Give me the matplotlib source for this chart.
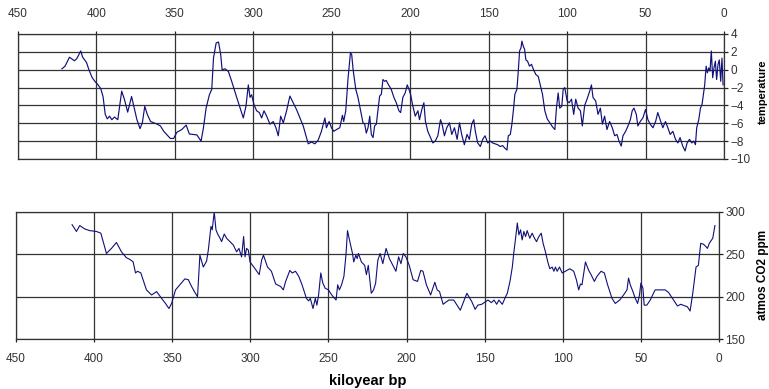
import matplotlib
matplotlib.use("Agg")
import matplotlib.pyplot as plt

plt.rcParams['font.family'] = ['Liberation Sans', 'DejaVu Sans']
plt.rcParams['font.size'] = 8.5

# Vostok ice core, temperature anomaly (deg C) vs age (kyr bp)
temp_age = [422, 420, 417.2, 414, 412.5, 410, 408.8, 406.3, 404.8, 402.7, 401, 399, 397.3, 395.8,
            394.4, 393.1, 391.6, 390.2, 388.5, 386.4, 383.9, 382.2, 380.1, 377.6, 375.9, 374.2,
            372.2, 370.7, 369.2, 367.6, 365.5, 363.4, 361.3, 359.2, 357.1, 355, 352.9, 350.8,
            348.7, 345.6, 342.8, 340.8, 338.1, 336, 333.3, 331.8, 330.1, 328, 326.5, 325.4,
            323.7, 322.2, 320.8, 319.9, 318, 315.9, 313.8, 310.6, 308.1, 306.4, 304.7, 303.2,
            302.1, 301.1, 299.6, 297.9, 296.2, 294.7, 293.2, 291.5, 289.4, 287.3, 285.6, 284.1,
            282.6, 280.9, 278.8, 276.7, 274.6, 272.5, 270.3, 268.2, 266.1, 265, 262.9, 260.8,
            258.7, 256.6, 254.4, 253.4, 251.7, 250.2, 248.7, 247, 244.9, 243.2, 242.4, 241.1,
            239.6, 238.1, 237.3, 236.4, 234.7, 233.3, 231.8, 230.1, 229, 228, 226.9, 225.8,
            224.8, 223.7, 222.7, 221.6, 220.6, 219.5, 218.4, 217.4, 216.3, 215.3, 213.8, 212.1,
            210.4, 208.9, 207.2, 206.1, 204.7, 203.2, 201.9, 200.8, 199.8, 198.3, 196.8, 195.1,
            194.1, 192.6, 191.3, 190.3, 188.8, 187.1, 185.6, 184.1, 182.4, 180.7, 179.7, 178.2,
            176.7, 175, 173.5, 171.8, 170.1, 168.6, 167.2, 165.5, 163.8, 162.3, 160.8, 159.5,
            158.5, 157, 155.3, 153.8, 152.3, 150.6, 148.9, 147.5, 145.8, 144.3, 142.6, 141.1,
            139.6, 138.3, 137.5, 136.2, 135.2, 134.1, 133.3, 132, 131.1, 130.3, 129.4, 128.8,
            127.9, 127.1, 126.3, 125.2, 124, 122.7, 121.4, 119.9, 118.4, 117.4, 115.7, 114.2,
            112.7, 111, 109.3, 107.8, 106.8, 105.7, 104.7, 103.4, 102.5, 101.5, 100, 98.7,
            97.2, 95.8, 94.5, 93, 91.5, 90.3, 88.8, 87.3, 85.6, 84.5, 83.5, 81.8, 80.3, 78.8,
            77.5, 76.1, 74.6, 72.9, 71.2, 69.7, 68.2, 66.9, 65.5, 64.4, 62.7, 61.2, 59.7, 58.5,
            57.4, 55.9, 54.9, 53.4, 51.7, 50, 48.5, 47, 45.3, 43.6, 42.2, 40.7, 39, 37.3, 35.8,
            34.3, 32.6, 30.9, 29.4, 28, 26.3, 24.8, 23.5, 22, 20.5, 19.3, 18.2, 17.4, 16.1, 15,
            14, 13.1, 12.3, 11.4, 10.6, 9.7, 8.9, 8.1, 7.2, 6.4, 5.5, 4.7, 3.8, 3.0, 2.1, 1.3, 0.6]
temp_val = [0.1, 0.4, 1.4, 1.0, 1.25, 2.1, 1.4, 0.8, 0.0, -0.9, -1.3, -1.7, -2.1, -3.0,
            -5.0, -5.5, -5.2, -5.6, -5.3, -5.6, -2.4, -3.3, -4.75, -3.0, -4.3, -5.6,
            -6.6, -5.9, -4.1, -5.0, -5.8, -5.95, -6.1, -6.3, -6.9, -7.3, -7.7, -7.7,
            -7.0, -6.7, -6.2, -7.2, -7.25, -7.3, -8.0, -6.5, -4.3, -2.8, -2.2, 1.3,
            3.0, 3.1, 1.7, 0.0, 0.1, -0.2, -1.3, -3.1, -4.45, -5.4, -4.1, -1.7,
            -3.1, -2.8, -3.9, -4.6, -4.8, -5.4, -4.6, -5.2, -6.1, -5.8, -6.5, -7.4,
            -5.2, -5.95, -4.6, -2.95, -3.7, -4.45, -5.4, -6.3, -7.6, -8.3, -8.1, -8.3,
            -7.9, -6.9, -5.4, -6.5, -5.8, -6.5, -6.9, -6.7, -6.5, -5.1, -5.8, -4.6,
            -0.9, 1.9, 1.7, 0.0, -2.2, -3.1, -4.45, -5.95, -6.1, -7.1, -6.5, -5.2,
            -7.25, -7.6, -6.3, -6.1, -4.6, -2.95, -2.75, -1.1, -1.3, -1.2, -1.7, -2.2,
            -3.1, -3.7, -4.6, -4.8, -3.1, -2.6, -1.7, -2.2, -2.75, -4.1, -5.2, -4.6,
            -5.6, -4.45, -3.7, -5.8, -6.9, -7.6, -8.2, -8.0, -7.4, -5.6, -6.1, -7.4,
            -6.5, -5.95, -7.25, -6.5, -7.8, -5.95, -7.25, -8.4, -7.25, -7.8, -6.1, -5.6,
            -6.9, -8.2, -8.6, -7.8, -7.4, -8.2, -8.0, -8.2, -8.3, -8.4, -8.6, -8.5,
            -8.8, -9.0, -7.4, -7.25, -6.1, -4.3, -2.75, -2.2, -0.1, 2.1, 2.45, 3.2,
            2.6, 2.3, 1.1, 0.95, 0.4, 0.6, 0.0, -0.55, -0.75, -1.5, -2.75, -4.6,
            -5.5, -5.95, -6.4, -6.7, -4.3, -2.6, -4.3, -4.1, -2.2, -2.0, -3.5, -3.7,
            -3.3, -5.0, -3.3, -4.3, -4.6, -6.3, -4.0, -3.3, -2.4, -1.7, -3.1, -3.5, -5.0, -4.3,
            -6.1, -5.2, -6.7, -5.8, -6.5, -7.4, -7.25, -8.0, -8.55, -7.4, -6.9, -6.3, -5.6, -4.6,
            -4.3, -5.0, -6.3, -5.8, -5.4, -4.45, -5.6, -6.1, -6.5, -5.8, -4.8, -5.6, -6.5, -5.8, -6.5,
            -7.25, -6.9, -7.8, -8.2, -7.6, -8.55, -9.1, -8.2, -7.8, -8.2, -8.0, -8.4, -6.5, -5.6, -4.3,
            -3.9, -2.75, -1.7, 0.4, -0.35, 0.2, -0.15, 2.1, -0.9, 0.2, 0.95, -1.1, 0.6, 1.1, -1.3, 1.3, -1.7]

# atmospheric CO2 (ppm) vs age (kyr bp)
co2_age = [414.1, 411.3, 409.2, 406, 402.8, 398.5, 395.7, 394.2, 392.1, 388.9, 385.7, 382.5,
           379.3, 377.1, 375, 373.5, 372.2, 370.1, 366.5, 363.2, 360, 356.8, 354.3, 352.1,
           350.4, 347.9, 345.1, 341.9, 339.7, 337.6, 335.5, 333.8, 332.3, 330.1, 328, 326.9,
           325.2, 324.4, 323.1, 322, 320.9, 319.4, 318.4, 316.7, 315.2, 313, 310.9, 308.8,
           307.3, 305.6, 304.3, 303.4, 302.4, 301.3, 300.2, 297, 294.3, 292.8, 291.6, 289,
           286.5, 283.8, 280.6, 278.9, 277.4, 274.7, 273.2, 271.1, 269, 266.9, 264.1, 262.7,
           261.6, 259.9, 258.4, 257.4, 256.3, 254.9, 253.6, 252.1, 250, 247.9, 245.1, 244.1,
           243, 241.6, 240.1, 238.8, 237.8, 236.3, 234.6, 233.8, 232.5, 231.6, 230.8, 228.9,
           226.8, 225.7, 224.5, 222.6, 221.1, 219.8, 218.4, 216.9, 215.2, 213.1, 211, 209.3,
           206.8, 205.1, 203.6, 202.1, 200.4, 198.3, 195.8, 193, 190.9, 189.5, 187.3, 184.6,
           181.9, 180.4, 178.9, 176.6, 173, 169.8, 165.6, 161.4, 158.2, 156.1, 154.4, 151.9,
           147.9, 145.7, 144, 142.3, 140.9, 138.7, 136.6, 135.5, 133.8, 132.3, 131.3, 130.2,
           129.1, 128.1, 127, 126, 124.9, 123.8, 122.8, 121.1, 119.6, 118.1, 116.8, 115.3,
           113.8, 112.6, 111.1, 109.6, 108.3, 106.8, 105.7, 104.7, 103.6, 102.1, 100.4, 98.3,
           95.5, 93, 91.3, 89.8, 88.7, 87.7, 85.5, 83.4, 81.9, 79.8, 78.1, 75.5, 73.4, 71.3,
           68.5, 66.4, 63.6, 61.1, 58.9, 57.9, 56.8, 55.1, 53.6, 52.1, 50.9, 50, 48.7, 47.9,
           46.2, 44, 40.9, 37.7, 34.5, 32.3, 29.1, 26.6, 24.5, 21.7, 20.2, 18.5, 16.8, 14.7,
           13.2, 11.7, 10, 8.3, 7.4, 6.2, 4.0, 2.6]
co2_ppm = [285, 277, 284, 280, 278, 277, 275, 265, 251, 257, 264, 253,
           246, 244, 241, 228, 230, 228, 208, 202, 206, 198, 192, 186,
           192, 208, 214, 221, 220, 212, 205, 200, 249, 235, 242, 255,
           283, 279, 300, 279, 274, 269, 265, 274, 269, 265, 261, 253,
           257, 247, 271, 247, 257, 255, 241, 233, 226, 243, 249, 235,
           230, 215, 212, 208, 218, 231, 228, 230, 224, 214, 198, 195,
           198, 186, 198, 190, 202, 228, 216, 210, 208, 202, 196, 214,
           208, 214, 224, 249, 278, 265, 251, 241, 249, 245, 251, 241,
           237, 226, 237, 204, 208, 216, 243, 251, 239, 257, 245, 239,
           230, 247, 239, 251, 247, 237, 220, 218, 231, 230, 214, 202,
           217, 208, 206, 191, 196, 196, 184, 204, 194, 185, 190, 191,
           196, 193, 196, 191, 196, 191, 200, 204, 218, 235, 253, 269,
           287, 273, 279, 267, 277, 271, 278, 269, 275, 269, 265, 271,
           275, 263, 253, 241, 233, 235, 230, 235, 230, 235, 228, 230,
           233, 230, 220, 208, 215, 214, 241, 231, 226, 218, 224, 230, 228, 214,
           198, 192, 196, 202, 208, 222, 214, 206, 198, 192, 202, 216, 210, 190,
           190, 196, 208, 208, 208, 205, 196, 189, 191, 189, 188, 183, 204, 235,
           237, 263, 262, 259, 257, 263, 269, 284]

temp_yticks = [-10, -8, -6, -4, -2, 0, 2, 4]
co2_yticks = [150, 200, 250, 300]
age_ticks = [450, 400, 350, 300, 250, 200, 150, 100, 50, 0]

line_color = '#10107a'

fig = plt.figure(figsize=(7.69, 3.89), dpi=100)


def style_axes(ax, top):
    ax.set_xlim(450, 0)
    ax.set_xticks(age_ticks)
    ax.yaxis.tick_right()
    if top:
        ax.xaxis.tick_top()
    ax.tick_params(axis='x', direction='out', length=2.5, width=0.9, color='#222222',
                   labelsize=8.5, pad=7.5, labelcolor='#333333')
    ax.tick_params(axis='y', direction='out', length=3, width=0.9, color='#222222',
                   labelsize=8.5, pad=1.5, labelcolor='#333333')
    ax.grid(True, color='#333333', linewidth=0.9)
    ax.set_axisbelow(True)
    for s in ax.spines.values():
        s.set_color('#333333')
        s.set_linewidth(0.9)


# ---- temperature ----
ax1 = fig.add_axes([18 / 769, 1 - 159 / 389, 706 / 769, 125 / 389])
ax1.plot(temp_age, temp_val, color=line_color, linewidth=0.85)
ax1.set_ylim(-10, 4)
ax1.set_yticks(temp_yticks)
style_axes(ax1, True)
fig.text(763 / 769, 1 - 92 / 389, 'temperature', rotation=90, ha='center', va='center',
         fontsize=8, fontweight='bold')

# ---- CO2 ----
ax2 = fig.add_axes([16 / 769, 1 - 339 / 389, 703 / 769, 127 / 389])
ax2.plot(co2_age, co2_ppm, color=line_color, linewidth=0.8)
ax2.set_ylim(150, 300)
ax2.set_yticks(co2_yticks)
style_axes(ax2, False)
fig.text(763 / 769, 1 - 275 / 389, 'atmos CO2 ppm', rotation=90, ha='center', va='center',
         fontsize=8.5, fontweight='bold')

fig.text(368 / 769, 1 - 381 / 389, 'kiloyear bp', ha='center', va='center',
         fontsize=10.5, fontweight='bold')

fig.savefig('out.png', dpi=100, facecolor='white')
